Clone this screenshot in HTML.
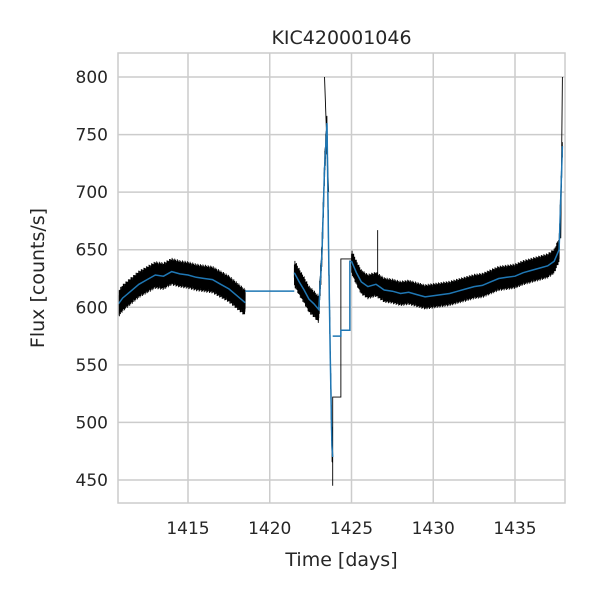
<!DOCTYPE html>
<html><head><meta charset="utf-8"><style>
body{margin:0;background:#fff;font-family:"Liberation Sans","DejaVu Sans",sans-serif}
svg text{fill:#262626;font-family:"DejaVu Sans","Liberation Sans",sans-serif}
</style></head><body>
<svg id="c" width="600" height="600" viewBox="0 0 600 600"></svg>
<script>
// data
const segTimes = [
 [1410.75,1411.0,1411.5,1412.0,1412.5,1413.0,1413.5,1414.0,1414.5,1415.0,1415.5,1416.0,1416.5,1417.0,1417.5,1418.0,1418.5],
 [1421.5,1421.8,1422.1,1422.4,1422.7,1423.0,1423.2,1423.35,1423.5,1423.6,1423.7,1423.8,1423.85],
 [1425.0,1425.3,1425.6,1426.0,1426.5,1427.0,1427.5,1428.0,1428.5,1429.0,1429.5,1430.0,1430.5,1431.0,1431.5,1432.0,1432.5,1433.0,1433.5,1434.0,1434.5,1435.0,1435.5,1436.0,1436.5,1437.0,1437.4,1437.7,1437.9]
];
const segFlux = [
 [603,608,614,620,624,628,627,631,629,628,626,625,624,620,616,610,604],
 [630,622,615,607,603,598,650,720,760,650,560,480,470],
 [640,630,622,618,620,615,614,612,613,611,609,610,611,612,614,616,618,619,622,625,626,627,630,632,634,636,640,650,740]
];
const segHalf = [12,12,11];
const gapTime = [1418.5,1421.5];
const gapFlux = [614,614];
const stepTime = [1423.85,1424.35,1424.9,1425.0];
const stepBlack = [522,642,642];
const stepBlue = [575,580,640];
const xTicks = [1415,1420,1425,1430,1435];
const yTicks = [450,500,550,600,650,700,750,800];
const NS="http://www.w3.org/2000/svg";
const svg=document.getElementById('c');
const L=118,R=565,T=53,B=503;
const x=t=>188+(t-1415)*16.35;
const y=v=>77+(800-v)*1.1514;
function el(tag,attrs,parent){const e=document.createElementNS(NS,tag);for(const k in attrs)e.setAttribute(k,attrs[k]);(parent||svg).appendChild(e);return e;}
const bg=el('rect',{x:L,y:T,width:R-L,height:B-T,fill:'#fff'});


xTicks.forEach(t=>{const g=el('line',{x1:x(t),x2:x(t),y1:T,y2:B,stroke:'#ccc','stroke-width':1.5});


const tx=el('text',{x:x(t),y:B+31,'text-anchor':'middle','font-size':17});tx.textContent=t;

});
yTicks.forEach(v=>{const g=el('line',{x1:L,x2:R,y1:y(v),y2:y(v),stroke:'#ccc','stroke-width':1.5});


const tx=el('text',{x:L-10,y:y(v)+6,'text-anchor':'end','font-size':17});tx.textContent=v;

});
function interp(ts,fs,t){for(let i=0;i<ts.length-1;i++){if(t<=ts[i+1]){const f=(t-ts[i])/(ts[i+1]-ts[i]);return fs[i]+f*(fs[i+1]-fs[i]);}}return fs[fs.length-1];}
// black noisy band
let bd='';
segTimes.forEach((ts,s)=>{const n=Math.round((ts[ts.length-1]-ts[0])*140);let first=true;
for(let i=0;i<=n;i++){const t=ts[0]+(ts[ts.length-1]-ts[0])*i/n;
const v=interp(ts,segFlux[s],t)+(i%2?1:-1)*segHalf[s]*(0.35+0.65*((i*37)%11)/10);
bd+=(first?'M':'L')+x(t).toFixed(1)+','+y(v).toFixed(1);first=false;}});
// black steps
bd+='M'+x(stepTime[0])+','+y(segFlux[1][segFlux[1].length-1]-25);
for(let i=0;i<stepBlack.length;i++){bd+='L'+x(stepTime[i])+','+y(stepBlack[i])+'L'+x(stepTime[i+1])+','+y(stepBlack[i]);}
bd+='M'+x(segTimes[1][7])+','+y(800)+'L'+x(segTimes[1][9])+','+y(700);
bd+='M'+x(1426.6)+','+y(625)+'L'+x(1426.6)+','+y(667);
bd+='M'+x(1437.8)+','+y(660)+'L'+x(1437.9)+','+y(800);
const bp=el('path',{d:bd,fill:'none',stroke:'#000','stroke-width':0.9});


// blue median
let ud='M'+x(gapTime[0])+','+y(gapFlux[0])+'L'+x(gapTime[1])+','+y(gapFlux[1]);
segTimes.forEach((ts,s)=>{ts.forEach((t,i)=>{ud+=(i?'L':'M')+x(t).toFixed(1)+','+y(segFlux[s][i]).toFixed(1);});});
for(let i=0;i<stepBlue.length;i++){ud+=(i?'L':'M')+x(stepTime[i])+','+y(stepBlue[i])+'L'+x(stepTime[i+1])+','+y(stepBlue[i]);}
const up=el('path',{d:ud,fill:'none',stroke:'#1f77b4','stroke-width':1.5});


const fr=el('rect',{x:L,y:T,width:R-L,height:B-T,fill:'none',stroke:'#ccc','stroke-width':1.5});


const ti=el('text',{x:(L+R)/2,y:44,'text-anchor':'middle','font-size':19});ti.textContent='KIC420001046';


const xl=el('text',{x:(L+R)/2,y:566,'text-anchor':'middle','font-size':19});xl.textContent='Time [days]';


const yl=el('text',{x:0,y:0,'text-anchor':'middle','font-size':19,transform:'translate(44,'+((T+B)/2)+') rotate(-90)'});yl.textContent='Flux [counts/s]';


</script></body></html>
